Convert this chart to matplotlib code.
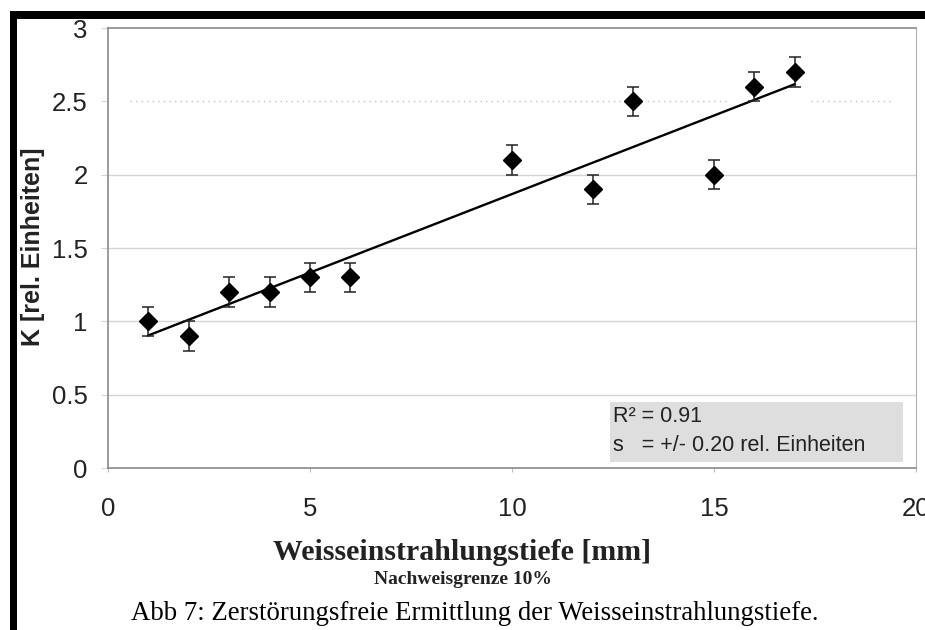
import numpy as np
import matplotlib
matplotlib.use("Agg")
import matplotlib.pyplot as plt
from matplotlib.patches import Rectangle

# Messwerte
tiefe = [1, 2, 3, 4, 5, 6, 10, 12, 13, 15, 16, 17]
k_wert = [1.0, 0.9, 1.2, 1.2, 1.3, 1.3, 2.1, 1.9, 2.5, 2.0, 2.6, 2.7]
fehler = [0.1] * 12
x_ticks = [0, 5, 10, 15, 20]
y_ticks = [0, 0.5, 1, 1.5, 2, 2.5, 3]

W, H = 925, 630
fig = plt.figure(figsize=(W / 100, H / 100), dpi=100)
ax = fig.add_axes([108 / W, 1 - 468 / H, (916 - 108) / W, (468 - 28) / H])

sans = "Liberation Sans"
serif = "Liberation Serif"

# Gitter
for y in [0.5, 1, 1.5, 2]:
    ax.axhline(y, color="#d4d4d4", lw=1.0, zorder=0)
for a, b in [(0.55, 12.7), (13.35, 15.4), (17.4, 19.4)]:
    ax.hlines(2.5, a, b, colors="#c0c0c0", linestyles=(0, (1, 3)), lw=1.0, zorder=0)

ax.errorbar(tiefe, k_wert, yerr=fehler, fmt="D", color="black", ms=9.5,
            ecolor="#222222", elinewidth=1.1, capsize=4, capthick=1.1, zorder=3)

m, c = np.polyfit(tiefe, k_wert, 1)
xx = np.array([min(tiefe), max(tiefe)])
ax.plot(xx, m * xx + c, color="black", lw=1.7, zorder=2)

ax.set_xlim(0, 20)
ax.set_ylim(0, 3)
ax.set_xticks(x_ticks)
ax.set_yticks(y_ticks)
ax.set_xticklabels([str(t) for t in x_ticks], fontfamily=sans, fontsize=18.5, color="#222222")
ax.set_yticklabels([f"{t:g}" for t in y_ticks], fontfamily=sans, fontsize=18.5, color="#222222")
ax.tick_params(axis="x", length=3, color="#bbbbbb", pad=18)
ax.tick_params(axis="y", length=5, color="#d4d4d4", pad=9.5)

for s in ["left", "bottom", "top"]:
    ax.spines[s].set_color("#8a8a8a")
    ax.spines[s].set_linewidth(1.2)
ax.spines["right"].set_color("#b0b0b0")
ax.spines["right"].set_linestyle((0, (1, 1)))

fig.text(33 / W, 1 - 247 / H, "K [rel. Einheiten]", fontfamily=sans, fontweight="bold",
         fontsize=18, rotation=90, ha="center", va="center", color="#222222")

# Textfeld
plt.rcParams["hatch.color"] = "#eeeeee"
fig.patches.append(Rectangle((610 / W, 1 - 462 / H), 293 / W, 60 / H, transform=fig.transFigure,
                             facecolor="#dedede", edgecolor="none", hatch="....",
                             linewidth=0, zorder=1))
fig.text(613 / W, 1 - 431 / H, "R\u00b2 = 0.91\ns   = +/- 0.20 rel. Einheiten", fontfamily=sans,
         fontsize=15.5, color="#222222", va="center", ha="left", linespacing=1.45)

fig.text(462 / W, 1 - 552 / H, "Weisseinstrahlungstiefe [mm]", fontfamily=serif,
         fontweight="bold", fontsize=21.5, ha="center", va="center", color="#222222")
fig.text(463 / W, 1 - 579 / H, "Nachweisgrenze 10%", fontfamily=serif,
         fontweight="bold", fontsize=14, ha="center", va="center", color="#222222")
fig.text(475 / W, 1 - 614 / H,
         "Abb 7: Zerst\u00f6rungsfreie Ermittlung der Weisseinstrahlungstiefe.",
         fontfamily=serif, fontsize=19.3, ha="center", va="center")

# schwarzer Rahmen oben und links
fig.patches.append(Rectangle((10 / W, 1 - 19 / H), 1, 8 / H, transform=fig.transFigure,
                             facecolor="black", edgecolor="none"))
fig.patches.append(Rectangle((10 / W, 0), 7 / W, 1 - 11 / H, transform=fig.transFigure,
                             facecolor="black", edgecolor="none"))

fig.savefig("out.png", dpi=100)
